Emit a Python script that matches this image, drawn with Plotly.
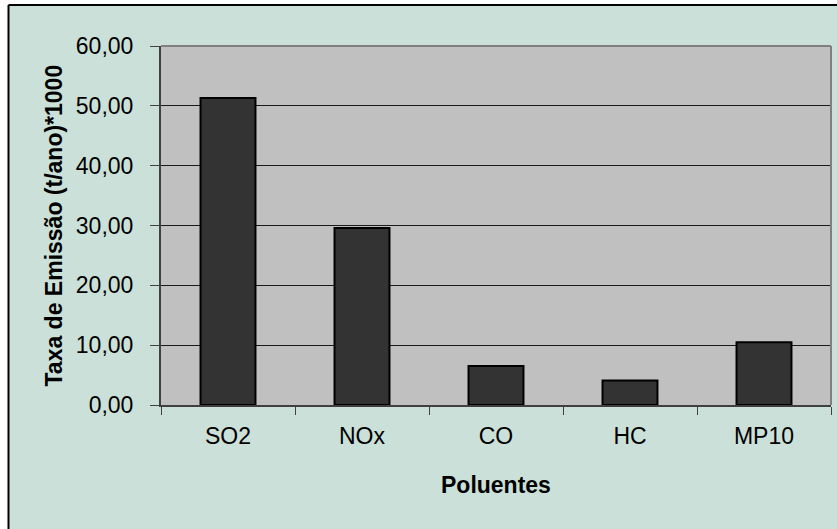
import plotly.graph_objects as go

categories = ["SO2", "NOx", "CO", "HC", "MP10"]
values = [51.3, 29.6, 6.5, 4.1, 10.5]
y_ticks = [0, 10, 20, 30, 40, 50, 60]

W, H = 837, 529
L, R, T, B = 161, 6, 46, 124
pw, ph = W - L - R, H - T - B

def px_x(p):
    return (p - L) / pw

def px_y(p):
    return (H - B - p) / ph

FONT = "Liberation Sans, Arial, sans-serif"
FS = 23

fig = go.Figure()
fig.add_trace(go.Bar(
    x=categories, y=values,
    marker=dict(color="#333333", line=dict(color="#000000", width=2)),
    width=0.41,
))

fig.update_layout(
    width=W, height=H,
    margin=dict(l=L, r=R, t=T, b=B, pad=0),
    paper_bgcolor="#CAE0D8",
    plot_bgcolor="#C0C0C0",
    separators=",.",
    showlegend=False,
    font=dict(family=FONT, size=FS, color="#000000"),
    xaxis=dict(
        type="category",
        tickson="boundaries",
        ticks="outside", ticklen=8, tickcolor="#404040", tickwidth=1,
        showline=True, linecolor="#404040", linewidth=2,
        showgrid=False,
        tickfont=dict(size=FS),
        ticklabelstandoff=9,
    ),
    yaxis=dict(
        range=[0, 60],
        tickvals=y_ticks,
        tickformat=".2f",
        ticks="outside", ticklen=9, tickcolor="#404040", tickwidth=1,
        showline=True, linecolor="#404040", linewidth=2,
        showgrid=True, gridcolor="#1a1a1a", gridwidth=1,
        zeroline=False,
        tickfont=dict(size=FS),
        ticklabelstandoff=12,
    ),
    shapes=[
        dict(type="rect", xref="paper", yref="paper", layer="below",
             x0=px_x(-5), x1=px_x(8.5), y0=px_y(540), y1=px_y(-5),
             fillcolor="#FFFFFF", line=dict(width=0)),
        dict(type="rect", xref="paper", yref="paper", layer="below",
             x0=px_x(-5), x1=px_x(845), y0=px_y(5), y1=px_y(-5),
             fillcolor="#FFFFFF", line=dict(width=0)),
        dict(type="line", xref="paper", yref="paper", layer="above",
             x0=px_x(8.5), x1=px_x(845), y0=px_y(5), y1=px_y(5),
             line=dict(color="#000000", width=2)),
        dict(type="line", xref="paper", yref="paper", layer="above",
             x0=px_x(8.5), x1=px_x(8.5), y0=px_y(540), y1=px_y(5),
             line=dict(color="#000000", width=2)),
        dict(type="line", xref="paper", yref="paper", layer="above",
             x0=0, x1=1, y0=1, y1=1, line=dict(color="#808080", width=2)),
        dict(type="line", xref="paper", yref="paper", layer="above",
             x0=1, x1=1, y0=0, y1=1, line=dict(color="#808080", width=2)),
    ],
    annotations=[
        dict(text="<b>Taxa de Emissão (t/ano)*1000</b>", textangle=-90,
             xref="paper", yref="paper", x=px_x(53), y=0.5,
             showarrow=False, xanchor="center", yanchor="middle",
             font=dict(size=FS)),
        dict(text="<b>Poluentes</b>",
             xref="paper", yref="paper", x=0.5, y=px_y(485),
             showarrow=False, xanchor="center", yanchor="middle",
             font=dict(size=FS)),
    ],
)

fig.write_html("out.html")
